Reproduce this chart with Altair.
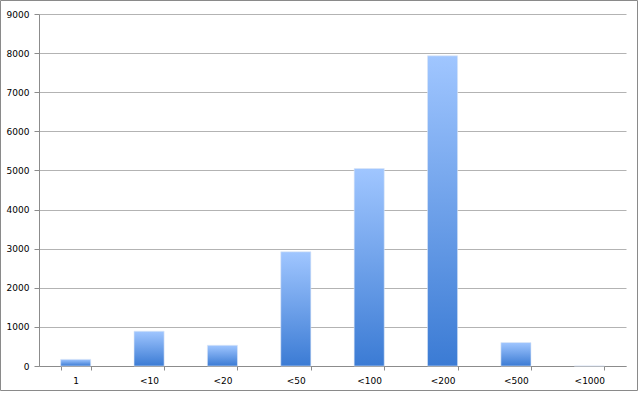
import altair as alt
import pandas as pd

categories = ["1", "<10", "<20", "<50", "<100", "<200", "<500", "<1000"]
counts = [170, 890, 530, 2920, 5050, 7930, 600, 0]
y_ticks = [0, 1000, 2000, 3000, 4000, 5000, 6000, 7000, 8000, 9000]

df = pd.DataFrame({"cat": categories, "count": counts})

FONT = "DejaVu Sans"
GRID = "#b3b3b3"
AXIS = "#8c8c8c"

gradient = alt.Gradient(
    gradient="linear",
    stops=[alt.GradientStop(color="#a0c6ff", offset=0),
           alt.GradientStop(color="#3b7bd4", offset=1)],
    x1=0, x2=0, y1=0, y2=1,
)

bars = alt.Chart(df).mark_bar(color=gradient, stroke="#dbe6f5", strokeWidth=0.6).encode(
    x=alt.X("cat:N", sort=categories, title=None,
            scale=alt.Scale(paddingInner=0.59, paddingOuter=0.295),
            axis=alt.Axis(labelAngle=0, labelFont=FONT, labelFontSize=9, labelColor="#000",
                          domainColor=AXIS, tickColor=AXIS, tickSize=4, tickBand="extent",
                          labelPadding=6, grid=False)),
    y=alt.Y("count:Q", title=None,
            scale=alt.Scale(domain=[0, 9000], nice=False),
            axis=alt.Axis(values=y_ticks, format="d", labelFont=FONT, labelFontSize=9,
                          labelColor="#000",
                          domainColor=AXIS, tickColor=AXIS, tickSize=5, labelPadding=5,
                          grid=True, gridColor=GRID, gridWidth=1)),
)

border = alt.Chart(pd.DataFrame({"a": [0]})).mark_rect(
    filled=False, stroke="#8a8a8a", strokeWidth=1
).encode(
    x=alt.value(-38.5), x2=alt.value(598.5), y=alt.value(-13.5), y2=alt.value(376.5)
)

chart = alt.layer(bars, border).properties(
    width=587, height=352,
    autosize=alt.AutoSizeParams(type="none"),
    padding={"left": 39, "top": 14, "right": 14, "bottom": 27},
    background="white",
).configure_view(stroke=None)

chart.save("out.html", embed_options={"renderer": "svg", "actions": False})
